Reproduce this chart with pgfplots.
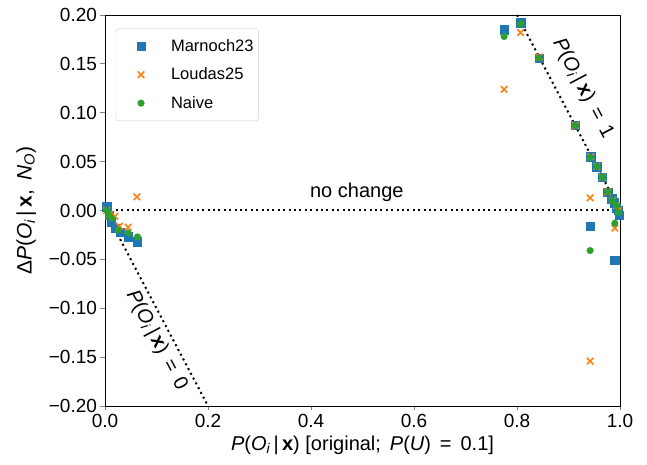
\documentclass[border=0pt]{standalone}
\usepackage{amsmath}
\usepackage{fontspec}
\setmainfont{Liberation Sans}
\usepackage{pgfplots}
\pgfplotsset{compat=1.18}
\usetikzlibrary{calc}
\definecolor{tabblue}{HTML}{1F77B4}
\definecolor{taborange}{HTML}{FF7F0E}
\definecolor{tabgreen}{HTML}{2CA02C}
\newcommand{\mi}[1]{\textit{#1}}
\newcommand{\fs}{\fontsize{20}{24}\selectfont}
\newcommand{\fy}{\fontsize{21}{25}\selectfont}
\newcommand{\ft}{\fontsize{19}{22}\selectfont}
\newcommand{\fl}{\fontsize{16.5}{19}\selectfont}
\pgfplotsset{myleg/.style={legend image code/.code={\pgfpathrectangle{\pgfpoint{0pt}{-1pt}}{\pgfpoint{50pt}{2pt}}\pgfusepath{use as bounding box}\draw[only marks] plot coordinates {(22pt,0pt)};}}}
\begin{document}
\begin{tikzpicture}
\begin{axis}[
  scale only axis, width=515pt, height=391pt,
  xmin=0, xmax=1, ymin=-0.2, ymax=0.2,
  xtick={0,0.2,0.4,0.6,0.8,1},
  xticklabels={0.0,0.2,0.4,0.6,0.8,1.0},
  ytick={-0.2,-0.15,-0.1,-0.05,0,0.05,0.1,0.15,0.2},
  yticklabels={−0.20,−0.15,−0.10,−0.05,0.00,0.05,0.10,0.15,0.20},
  tick align=outside, tick pos=left, major tick length=4.5pt,
  major tick style={line width=0.8pt},
  ticklabel style={font=\ft},
  label style={font=\fs},
  xlabel={\mi{P}(\mi{O}$_{\text{\itshape i}}$\,|\,\textbf{x}) [original;\, \mi{P}(\mi{U})\, =\, 0.1]},
  ylabel={Δ\mi{P}(\mi{O}$_{\text{\itshape i}}$\,|\,\textbf{x},\, \mi{N}$_{\text{\itshape O}}$)},
  xlabel style={yshift=-2pt},
  ylabel style={font=\fy, yshift=6pt},
  axis line style={line width=0.8pt},
  legend style={at={(0.021,0.966)}, anchor=north west, draw=black!20, rounded corners=3pt, font=\fl, row sep=11pt, inner xsep=3pt, inner ysep=9pt},
  legend cell align=left,
]
\addplot[only marks, myleg, mark=square*, mark size=4.2pt, color=tabblue] coordinates {
(0.003,0.004) (0.008,-0.005) (0.012,-0.012) (0.02,-0.018) (0.03,-0.022) (0.045,-0.027) (0.062,-0.032)
(0.775,0.185) (0.807,0.192) (0.843,0.156) (0.913,0.087) (0.943,0.055) (0.942,-0.016)
(0.955,0.045) (0.966,0.034) (0.976,0.019) (0.984,0.012) (0.989,0.008) (0.993,0.003) (0.996,0.0) (0.998,-0.005) (0.990,-0.051)
};
\addlegendentry{Marnoch23}
\addplot[only marks, myleg, mark=x, mark size=4.6pt, line width=1.6pt, color=taborange] coordinates {
(0.003,0.0) (0.008,-0.004) (0.019,-0.006) (0.028,-0.016) (0.045,-0.017) (0.062,0.014)
(0.775,0.124) (0.807,0.182) (0.843,0.157) (0.913,0.087) (0.943,0.055) (0.942,0.013) (0.942,-0.154)
(0.955,0.045) (0.966,0.034) (0.976,0.019) (0.985,0.010) (0.990,-0.018) (0.993,0.005) (0.997,0.0)
};
\addlegendentry{Loudas25}
\addplot[only marks, myleg, mark=*, mark size=3.3pt, color=tabgreen] coordinates {
(0.004,0.0) (0.008,-0.005) (0.013,-0.008) (0.026,-0.020) (0.045,-0.023) (0.063,-0.027)
(0.775,0.178) (0.807,0.191) (0.843,0.156) (0.913,0.087) (0.943,0.054) (0.942,-0.041)
(0.955,0.045) (0.966,0.034) (0.976,0.019) (0.985,0.010) (0.990,-0.013) (0.993,0.005) (0.997,-0.002)
};
\addlegendentry{Naive}
\addplot[forget plot, black, line width=2pt, dash pattern=on 2pt off 3.4pt] coordinates {(0,0) (1,0)};
\addplot[forget plot, black, line width=2pt, dash pattern=on 2pt off 3.4pt] coordinates {(0,0) (0.2,-0.2)};
\addplot[forget plot, black, line width=2pt, dash pattern=on 2pt off 3.4pt] coordinates {(0.8,0.2) (1,0)};
\node[font=\fs] at (axis cs:0.489,0.019) {no change};
\node[font=\fs, rotate=-62.2] at (axis cs:0.928,0.125) {\mi{P}(\mi{O}$_{\text{\itshape i}}$\,|\,\textbf{x})\, =\, 1};
\node[font=\fs, rotate=-62.2] at (axis cs:0.100,-0.133) {\mi{P}(\mi{O}$_{\text{\itshape i}}$\,|\,\textbf{x})\, =\, 0};
\end{axis}
\pgfresetboundingbox
\path ($(current axis.south west)+(-105pt,-59pt)$) rectangle ($(current axis.north east)+(27pt,15pt)$);
\end{tikzpicture}
\end{document}
